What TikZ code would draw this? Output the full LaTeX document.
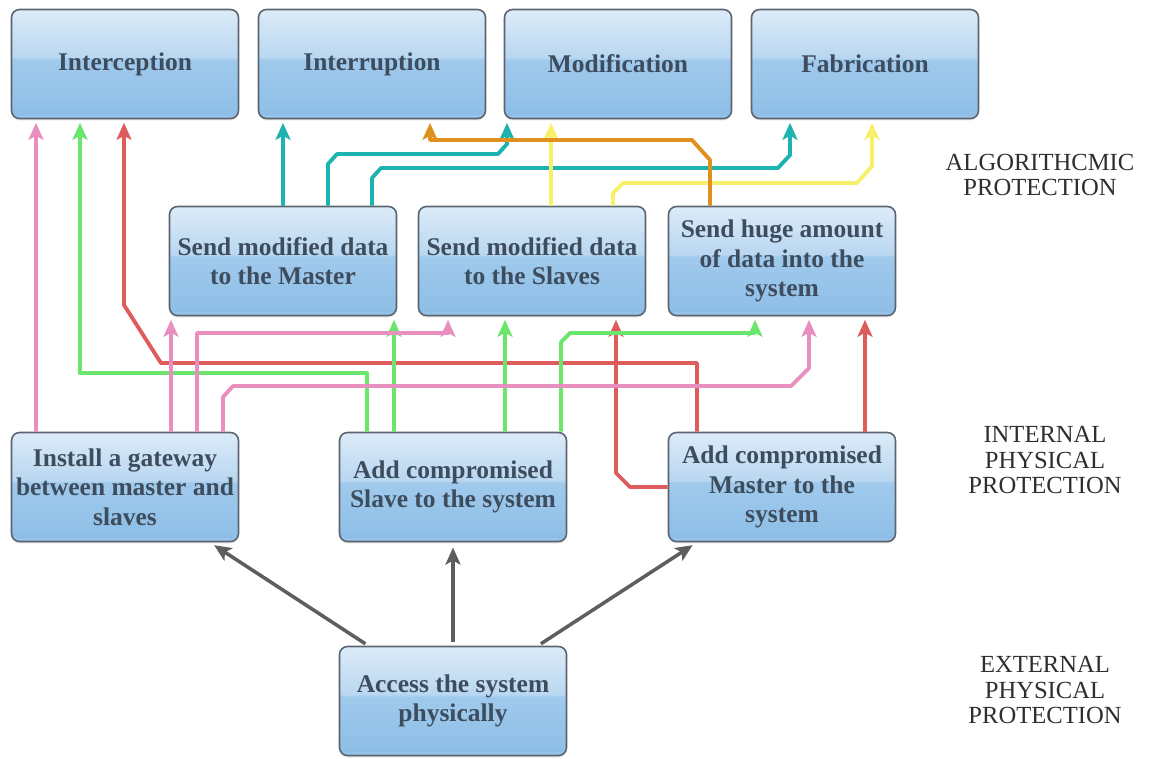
\documentclass[tikz,border=0pt]{standalone}
\usepackage{fontspec}
\setmainfont{Liberation Serif}
\usetikzlibrary{arrows.meta,shadows}

\definecolor{bxtop}{HTML}{DCEBF8}
\definecolor{bxmidhi}{HTML}{B9D7F1}
\definecolor{bxmidlo}{HTML}{A0CAEC}
\definecolor{bxlow}{HTML}{8EBEE7}
\definecolor{bxbot}{HTML}{A8CFEF}
\definecolor{bxline}{HTML}{5B6470}
\definecolor{bxtext}{HTML}{3E4D5E}
\definecolor{lbltext}{HTML}{2E2E2E}
\definecolor{arrgray}{HTML}{5E5E5E}
\definecolor{pnk}{HTML}{E98FC0}
\definecolor{grn}{HTML}{6BE56B}
\definecolor{rd}{HTML}{DF5C5C}
\definecolor{tel}{HTML}{1DB3B0}
\definecolor{org}{HTML}{E0901E}
\definecolor{ylw}{HTML}{F7F06A}

\pgfdeclareverticalshading{boxshade}{100bp}{color(0bp)=(bxbot); color(25bp)=(bxbot); color(27bp)=(bxlow);
  color(52bp)=(bxmidlo); color(53bp)=(bxmidhi); color(75bp)=(bxtop); color(100bp)=(bxtop)}

\begin{document}
\begin{tikzpicture}[x=0.2mm,y=-0.2mm,> = {Stealth[length=3.4mm,width=3mm,inset=0.8mm]},shorten > = 2pt,line join=round,
	box/.style={shade,shading=boxshade,draw=bxline,line width=0.9pt,rounded corners=1.6mm,minimum width=45.4mm,minimum height=21.8mm,
		drop shadow={shadow xshift=0pt,shadow yshift=-1pt,opacity=0.25},
		inner sep=0pt,align=center,text=bxtext,font=\fontsize{14.5}{16.8}\selectfont\bfseries},
	lbl/.style={align=center,text=lbltext,font=\fontsize{14}{14.3}\selectfont},
	lnk/.style={->,line width=2.2pt},
	gry/.style={->,line width=2pt,draw=arrgray,fill=arrgray,shorten <=2pt,shorten >=3pt}]
	\useasboundingbox (0,0) rectangle (1149,758);

	\node[box] (icpt) at (125,64)	{Interception};
	\node[box] (intr) at (372,64)	{Interruption};
	\node[box] (modf) at (618,64)	{Modification};
	\node[box] (fabr) at (865,64)	{Fabrication};
	\node[box] (sdm) at (283,261)	{Send modified data\\to the Master};
	\node[box] (sds) at (532,261)	{Send modified data\\to the Slaves};
	\node[box] (huge) at (782,261)	{Send huge amount\\of data into the\\system};
	\node[box] (gate) at (125,487)	{Install a gateway\\between master and\\slaves};
	\node[box] (slv) at (453,487)	{Add compromised\\Slave to the system};
	\node[box] (mst) at (782,487)	{Add compromised\\Master to the\\system};
	\node[box] (acc) at (453,701)	{Access the system\\physically};

	\node[lbl] (alg) at (1040,175)	{ALGORITHCMIC\\PROTECTION};
	\node[lbl] (ipp) at (1045,460)	{INTERNAL\\PHYSICAL\\PROTECTION};
	\node[lbl] (epp) at (1045,690)	{EXTERNAL\\PHYSICAL\\PROTECTION};

	\draw[gry] (acc) -- (gate);
	\draw[gry] (acc) -- (slv);
	\draw[gry] (acc) -- (mst);

	% master
	\draw[lnk,rd] (697,0 |- mst.north) -- (697,363) -- (161,363) -- (124,305) -- (124,0 |- icpt.south);
	\draw[lnk,rd] (mst.west) -- (630,487) -- (616,473) -- (616,0 |- sds.south);
	\draw[lnk,rd] (865,0 |- mst.north) -- (865,0 |- huge.south);
	% slave
	\draw[lnk,grn] (367,0 |- slv.north) -- (367,373) -- (80,373) -- (80,0 |- icpt.south);
	\draw[lnk,grn] (394,0 |- slv.north) -- (394,0 |- sdm.south);
	\draw[lnk,grn] (505,0 |- slv.north) -- (505,0 |- sds.south);
	\draw[lnk,grn] (561,0 |- slv.north) -- (561,342) -- (570,333) -- (755,333) -- (755,0 |- huge.south);
	% gateway
	\draw[lnk,pnk] (36,0 |- gate.north) -- (36,0 |- icpt.south);
	\draw[lnk,pnk] (171,0 |- gate.north) -- (171,0 |- sdm.south);
	\draw[lnk,pnk] (197,0 |- gate.north) -- (197,333) -- (448,333) -- (448,0 |- sds.south);
	\draw[lnk,pnk] (223,0 |- gate.north) -- (223,397) -- (233,386) -- (791,386) -- (809,368) -- (809,0 |- huge.south);
	% second level
	\draw[lnk,tel] (283,0 |- sdm.north) -- (283,0 |- intr.south);
	\draw[lnk,tel] (328,0 |- sdm.north) -- (328,164) -- (337,154) -- (498,154) -- (507,144) -- (507,0 |- modf.south);
	\draw[lnk,tel] (372,0 |- sdm.north) -- (372,178) -- (381,168) -- (778,168) -- (790,155) -- (790,0 |- fabr.south);
	\draw[lnk,ylw] (551,0 |- sds.north) -- (551,0 |- modf.south);
	\draw[lnk,ylw] (613,0 |- sds.north) -- (613,193) -- (623,183) -- (857,183) -- (872,166) -- (872,0 |- fabr.south);
	\draw[lnk,org] (710,0 |- huge.north) -- (710,160) -- (692,140) -- (430,140) -- (430,0 |- intr.south);
\end{tikzpicture}
\end{document}
